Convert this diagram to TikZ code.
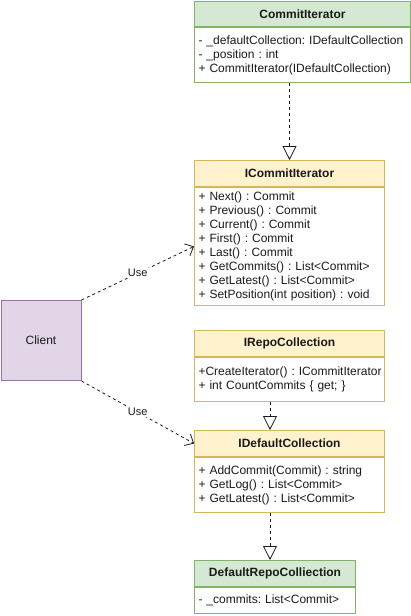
\documentclass[tikz,border=0pt]{standalone}
\usepackage{fontspec}
\setmainfont{Liberation Sans}
\usetikzlibrary{arrows.meta}
\definecolor{gfill}{HTML}{D5E8D4}
\definecolor{gline}{HTML}{82B366}
\definecolor{yfill}{HTML}{FFF2CC}
\definecolor{yline}{HTML}{D6B656}
\definecolor{pfill}{HTML}{E1D5E7}
\definecolor{pline}{HTML}{9673A6}
\definecolor{ink}{HTML}{1A1A1A}
\frenchspacing
\hyphenpenalty=10000 \exhyphenpenalty=10000 
\begin{document}
\begin{tikzpicture}[x=1pt,y=-1pt,
  every node/.style={text=ink},
  hdr/.style={draw, line width=1pt, rectangle, anchor=north west, inner sep=0pt,
    font=\bfseries\fontsize{12pt}{14pt}\selectfont},
  hdrg/.style={hdr, fill=gfill, draw=gline},
  hdry/.style={hdr, fill=yfill, draw=yline},
  body/.style={draw, line width=1pt, rectangle, fill=white, anchor=north west, align=left,
    inner xsep=4pt, inner ysep=0pt,
    font=\frenchspacing\fontsize{12pt}{14pt}\selectfont},
  bodyg/.style={body, draw=gline},
  bodyy/.style={body, draw=yline},
  client/.style={draw=pline, fill=pfill, line width=1pt, rectangle, anchor=north west,
    inner sep=0pt, font=\fontsize{12pt}{14pt}\selectfont},
  impl/.style={draw=ink, line width=0.8pt, dash pattern=on 3pt off 3pt,
    -{Triangle[open, length=14pt, width=14pt, line width=0.8pt]}},
  uses/.style={draw=ink, line width=0.8pt, dash pattern=on 3pt off 3pt,
    -{Straight Barb[length=7pt, width=13pt, line width=0.8pt]}},
  lbl/.style={fill=white, inner sep=1pt, font=\fontsize{11pt}{13pt}\selectfont}
]
\useasboundingbox (0,0) rectangle (411,616);

% CommitIterator
\node[hdrg, minimum width=216pt, minimum height=25pt] (ciH) at (194,1) {CommitIterator};
\node[bodyg, text width=208pt, minimum height=55pt] (ciB) at (ciH.south west)
  {- \_defaultCollection: IDefaultCollection\\- \_position : int\\+ CommitIterator(IDefaultCollection)};

% ICommitIterator
\node[hdry, minimum width=190pt, minimum height=26pt] (iciH) at (194,160) {ICommitIterator};
\node[bodyy, text width=182pt, minimum height=118pt] (iciB) at (iciH.south west)
  {+ Next() : Commit\\+ Previous() : Commit\\+ Current() : Commit\\+ First() : Commit\\+ Last() : Commit\\+ GetCommits() : List<Commit>\\+ GetLatest() : List<Commit>\\+ SetPosition(int position) : void};

% IRepoCollection
\node[hdry, minimum width=190pt, minimum height=26pt] (irH) at (194,330) {IRepoCollection};
\node[bodyy, text width=182pt, minimum height=44pt] (irB) at (irH.south west)
  {\makebox[182pt][l]{+CreateIterator() : ICommitIterator}\\+ int CountCommits \{ get; \}};

% IDefaultCollection
\node[hdry, minimum width=190pt, minimum height=26pt] (idcH) at (194,430) {IDefaultCollection};
\node[bodyy, text width=182pt, minimum height=55pt] (idcB) at (idcH.south west)
  {+ AddCommit(Commit) : string\\+ GetLog() : List<Commit>\\+ GetLatest() : List<Commit>};

% DefaultRepoColliection
\node[hdrg, minimum width=161pt, minimum height=26pt] (drH) at (194,560) {DefaultRepoColliection};
\node[bodyg, text width=153pt, minimum height=26pt] (drB) at (drH.south west)
  {- \_commits: List<Commit>};

% Client
\node[client, minimum width=80pt, minimum height=80pt] (client) at (0.5,300) {Client};

% connectors
\draw[impl] (ciB.south -| iciH.north) -- (iciH.north);
\draw[impl] ([xshift=76pt]irB.south west) -- ([xshift=76pt]idcH.north west);
\draw[impl] ([xshift=76pt]idcB.south west) -- ([xshift=76pt]drH.north west);
\draw[uses] (client.north east) -- (iciB.west) node[midway, lbl] {Use};
\draw[uses] (client.south east) -- (idcH.west) node[midway, lbl] {Use};
\end{tikzpicture}
\end{document}
